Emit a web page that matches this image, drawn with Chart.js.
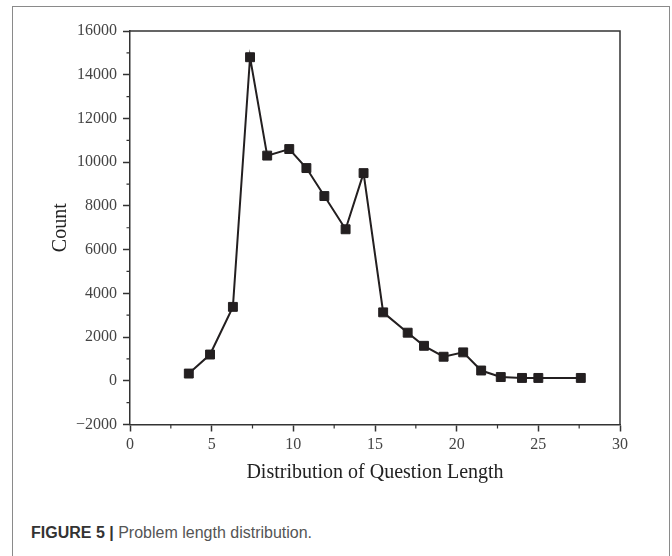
<!DOCTYPE html>
<html>
<head>
<meta charset="utf-8">
<script src="https://cdn.jsdelivr.net/npm/chart.js@4"></script>
<style>
  html,body{margin:0;padding:0;background:#fff;}
  #wrap{position:relative;width:672px;height:556px;overflow:hidden;}
  #frame{position:absolute;left:12px;top:6px;width:656px;height:560px;border:1px solid #8a8a8a;}
  #cv{position:absolute;left:0;top:0;}
  #caption{position:absolute;left:31px;top:524px;font-family:"Liberation Sans",Arial,sans-serif;font-size:16px;color:#555;white-space:nowrap;}
  #caption b{color:#333;}
</style>
</head>
<body>
<div id="wrap">
  <div id="frame"></div>
  <canvas id="cv" width="672" height="500"></canvas>
  <div id="caption"><b>FIGURE 5 |</b> Problem length distribution.</div>
</div>
<script>
// DATA
const questionLength=[3.6,4.9,6.3,7.35,8.4,9.75,10.8,11.9,13.2,14.3,15.5,17.0,18.0,19.2,20.4,21.5,22.7,24.0,25.0,27.6];
const counts=[330,1200,3380,14800,10300,10600,9730,8450,6930,9500,3130,2200,1600,1100,1300,470,170,130,130,130];
const xTicks={min:0,max:30,step:5};
const yTicks={min:-2000,max:16000,step:2000};

const serif='"Liberation Serif","Times New Roman",serif';
const axisColor='#333';

// minor ticks + top/right frame of the plot
const frameAndMinor={
  id:'frameAndMinor',
  afterDraw(chart){
    const ctx=chart.ctx, a=chart.chartArea, xs=chart.scales.x, ys=chart.scales.y;
    ctx.save();
    ctx.strokeStyle=axisColor;
    ctx.lineWidth=1.5;
    ctx.beginPath();
    ctx.moveTo(a.left,a.top);ctx.lineTo(a.right,a.top);ctx.lineTo(a.right,a.bottom);
    ctx.stroke();
    ctx.lineWidth=1.2;
    ctx.beginPath();
    for(let v=yTicks.min+yTicks.step/2;v<yTicks.max;v+=yTicks.step){
      const p=ys.getPixelForValue(v);
      ctx.moveTo(a.left,p);ctx.lineTo(a.left-3.5,p);
    }
    for(let v=xTicks.min+xTicks.step/2;v<xTicks.max;v+=xTicks.step){
      const p=xs.getPixelForValue(v);
      ctx.moveTo(p,a.bottom);ctx.lineTo(p,a.bottom+4);
    }
    ctx.stroke();
    ctx.restore();
  }
};

const fmt=v=>v<0?'\u2212'+Math.abs(v):String(v);

new Chart(document.getElementById('cv').getContext('2d'),{
  type:'scatter',
  data:{datasets:[{
    data:questionLength.map((x,i)=>({x:x,y:counts[i]})),
    showLine:true,
    borderColor:'#231f20',
    borderWidth:2,
    backgroundColor:'#231f20',
    pointStyle:'rect',
    pointRadius:6.3,
    pointBorderWidth:1,
    pointBorderColor:'#231f20'
  }]},
  options:{
    responsive:false,
    animation:false,
    layout:{padding:{top:31,right:52,left:0,bottom:0}},
    plugins:{legend:{display:false},tooltip:{enabled:false}},
    scales:{
      x:{
        type:'linear',min:xTicks.min,max:xTicks.max,
        ticks:{stepSize:xTicks.step,color:'#444',font:{family:serif,size:16},padding:4,callback:fmt},
        grid:{drawOnChartArea:false,drawTicks:true,tickLength:7,tickColor:axisColor,tickWidth:1.5},
        border:{display:true,color:axisColor,width:1.5},
        title:{display:true,text:'Distribution of Question Length',color:'#222',font:{family:serif,size:20},padding:{top:15,bottom:15}},
        afterFit(s){s.height=75.5;}
      },
      y:{
        min:yTicks.min,max:yTicks.max,
        ticks:{stepSize:yTicks.step,color:'#444',font:{family:serif,size:16},padding:6,callback:fmt},
        grid:{drawOnChartArea:false,drawTicks:true,tickLength:7,tickColor:axisColor,tickWidth:1.5},
        border:{display:true,color:axisColor,width:1.5},
        title:{display:true,text:'Count',color:'#222',font:{family:serif,size:20},padding:{top:49,bottom:49}},
        afterFit(s){s.width=130;}
      }
    }
  },
  plugins:[frameAndMinor]
});
</script>
</body>
</html>
